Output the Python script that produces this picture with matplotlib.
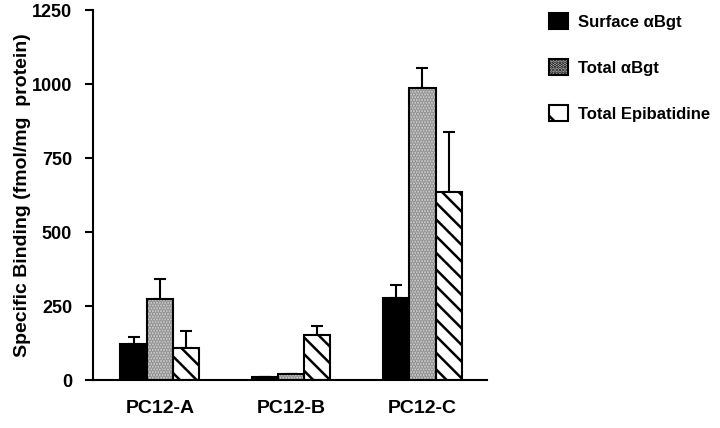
import matplotlib.pyplot as plt
import numpy as np
from matplotlib.patches import Patch

plt.rcParams['font.family'] = ['Liberation Sans', 'DejaVu Sans']
plt.rcParams['font.weight'] = 'bold'
plt.rcParams['hatch.linewidth'] = 1.8

# data
cells = ['PC12-A', 'PC12-B', 'PC12-C']
surface_bgt = [122, 10, 277]
surface_bgt_err = [23, 0, 44]
total_bgt = [274, 20, 986]
total_bgt_err = [67, 0, 68]
total_epi = [108, 152, 635]
total_epi_err = [58, 30, 203]
yticks = [0, 250, 500, 750, 1000, 1250]

fig = plt.figure(figsize=(7.2, 4.28), dpi=100)
ax = fig.add_axes([0.129, 0.112, 0.547, 0.864])

x = np.arange(len(cells))
w = 0.2
ekw = dict(fmt='none', ecolor='black', elinewidth=1.5, capsize=4.5, capthick=1.5, zorder=1)


def up_err(pos, vals, errs):
    ax.errorbar(pos, vals, yerr=[np.zeros(len(errs)), errs], **ekw)


# surface aBgt - solid black
up_err(x - w, surface_bgt, surface_bgt_err)
ax.bar(x - w, surface_bgt, w, color='black', edgecolor='black', linewidth=1.5, zorder=2)

# total aBgt - stippled grey
up_err(x, total_bgt, total_bgt_err)
ax.bar(x, total_bgt, w, color='#d8d8d8', edgecolor='#8a8a8a', hatch='......', linewidth=0, zorder=2)
ax.bar(x, total_bgt, w, color='none', edgecolor='black', linewidth=1.5, zorder=3)

# total epibatidine - diagonal hatch
up_err(x + w, total_epi, total_epi_err)
ax.bar(x + w, total_epi, w, color='white', edgecolor='black', hatch='\\\\', linewidth=1.5, zorder=2)

ax.set_xlim(-0.51, 2.49)
ax.set_ylim(0, 1250)
ax.set_yticks(yticks)
ax.set_xticks(x)
ax.set_xticklabels(cells, fontsize=14, fontweight='bold')
ax.tick_params(axis='x', length=0, pad=14)
ax.tick_params(axis='y', length=6, width=1.5, pad=9, labelsize=13)
for s in ['top', 'right']:
    ax.spines[s].set_visible(False)
for s in ['left', 'bottom']:
    ax.spines[s].set_linewidth(1.5)

ax.set_ylabel('Specific Binding (fmol/mg  protein)', fontsize=14, fontweight='bold')
ax.yaxis.set_label_coords(-0.158, 0.5)

# legend with proxy patches
handles = [
    Patch(facecolor='black', edgecolor='black', linewidth=1.5),
    Patch(facecolor='#c8c8c8', edgecolor='black', hatch='.....', linewidth=1.5),
    Patch(facecolor='white', edgecolor='black', hatch='\\', linewidth=1.5),
]
labels = ['Surface \u03b1Bgt', 'Total \u03b1Bgt', 'Total Epibatidine']
ax.legend(handles, labels, loc='upper left', bbox_to_anchor=(0.742, 1.004),
          bbox_transform=fig.transFigure, frameon=False, fontsize=12,
          handlelength=1.1, handleheight=1.1, labelspacing=1.75, handletextpad=0.6)

plt.savefig('out.png', dpi=100)
